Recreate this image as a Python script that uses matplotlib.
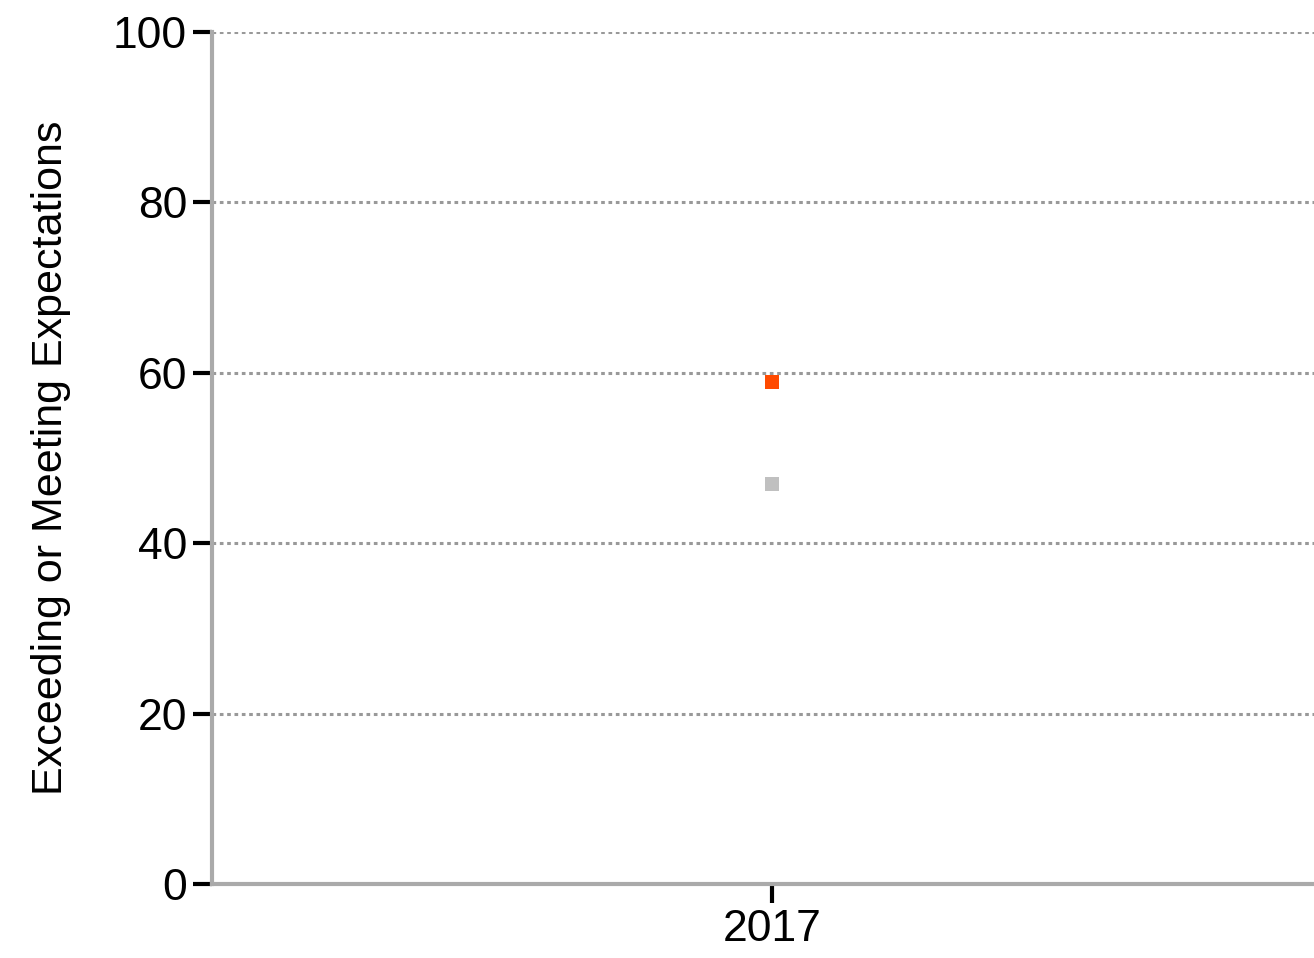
import matplotlib.pyplot as plt

plt.rcParams['font.family'] = ['Liberation Sans', 'DejaVu Sans']

years = ['2017']
series_a = [58.9]   # orange-red
series_b = [46.9]   # gray
yticks = [0, 20, 40, 60, 80, 100]

fig = plt.figure(figsize=(13.14, 9.58), dpi=100)
ax = fig.add_axes([212/1314, 1 - 884/958, 1120/1314, 852/958])

x = list(range(len(years)))
ax.scatter(x, series_b, marker='s', s=90, color='#c0c0c0', zorder=3, linewidths=0)
ax.scatter(x, series_a, marker='s', s=90, color='#ff4a00', zorder=3, linewidths=0)

ax.set_xlim(-0.5, 0.5)
ax.set_ylim(0, 100)
ax.set_yticks(yticks)
ax.set_xticks(x)
ax.set_xticklabels(years)
ax.yaxis.grid(True, linestyle=(0, (1.2, 1.2)), color='#999999', linewidth=2.2)
ax.set_axisbelow(True)

for side in ['top', 'right']:
    ax.spines[side].set_visible(False)
for side in ['left', 'bottom']:
    ax.spines[side].set_color('#aaaaaa')
    ax.spines[side].set_linewidth(3)

ax.tick_params(axis='both', length=14, width=3, color='black', labelsize=32, pad=4)
ax.set_ylabel('Exceeding or Meeting Expectations', fontsize=31, labelpad=30)

fig.savefig('out.png', dpi=100)
